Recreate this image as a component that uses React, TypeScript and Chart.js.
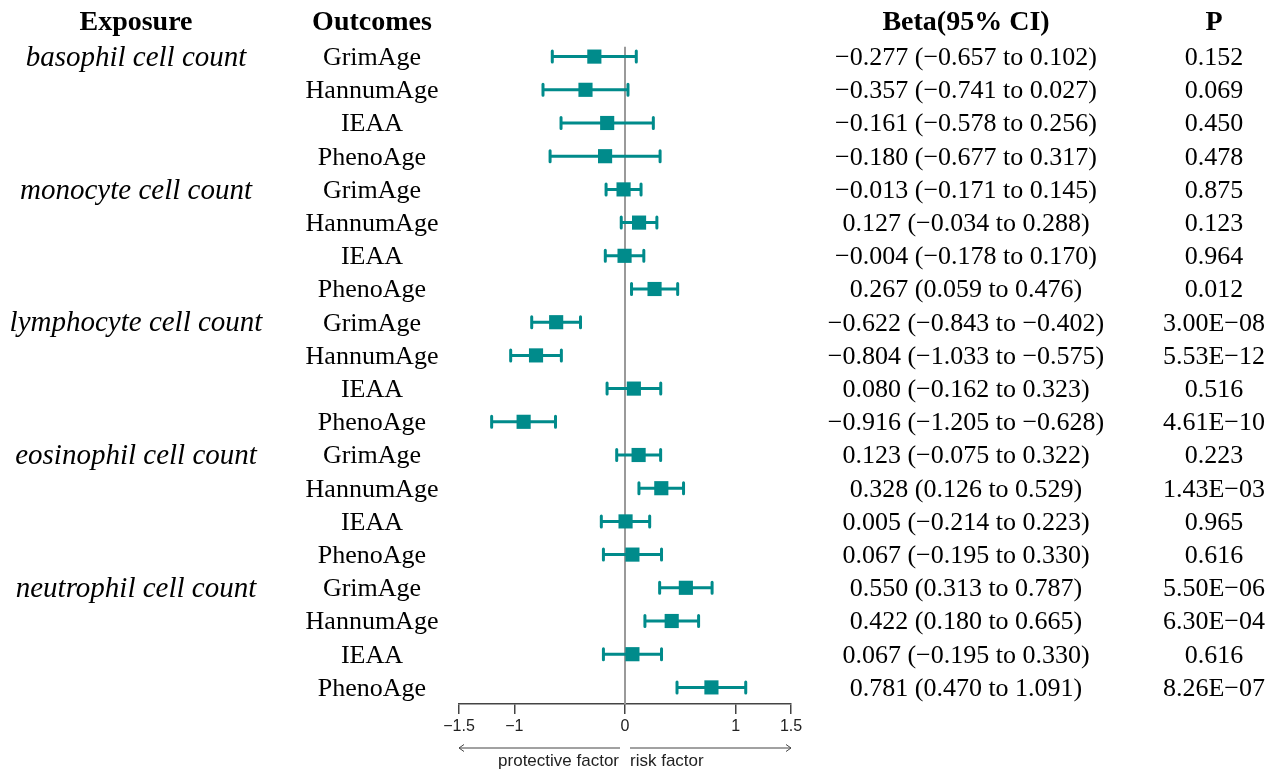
import React, { useEffect, useRef } from "react";
import { Chart, registerables } from "chart.js";

Chart.register(...registerables);

const exposures = [
  "basophil cell count",
  "monocyte cell count",
  "lymphocyte cell count",
  "eosinophil cell count",
  "neutrophil cell count",
];
const outcomes = ["GrimAge", "HannumAge", "IEAA", "PhenoAge"];
const beta = [
  -0.277, -0.357, -0.161, -0.18, -0.013, 0.127, -0.004, 0.267, -0.622, -0.804,
  0.08, -0.916, 0.123, 0.328, 0.005, 0.067, 0.55, 0.422, 0.067, 0.781,
];
const lower = [
  -0.657, -0.741, -0.578, -0.677, -0.171, -0.034, -0.178, 0.059, -0.843, -1.033,
  -0.162, -1.205, -0.075, 0.126, -0.214, -0.195, 0.313, 0.18, -0.195, 0.47,
];
const upper = [
  0.102, 0.027, 0.256, 0.317, 0.145, 0.288, 0.17, 0.476, -0.402, -0.575, 0.323,
  -0.628, 0.322, 0.529, 0.223, 0.33, 0.787, 0.665, 0.33, 1.091,
];
const pValues = [
  "0.152", "0.069", "0.450", "0.478", "0.875", "0.123", "0.964", "0.012",
  "3.00E\u221208", "5.53E\u221212", "0.516", "4.61E\u221210", "0.223",
  "1.43E\u221203", "0.965", "0.616", "5.50E\u221206", "6.30E\u221204", "0.616",
  "8.26E\u221207",
];
const xTicks = [-1.5, -1, 0, 1, 1.5];
const headers = ["Exposure", "Outcomes", "Beta(95% CI)", "P"];
const directionLabels = ["protective factor", "risk factor"];

const TEAL = "#008b8b";
const SERIF = '"Liberation Serif", "Times New Roman", serif';
const SANS = '"Liberation Sans", Arial, sans-serif';

const fmt = (v: number) => (v < 0 ? "\u2212" : "") + Math.abs(v).toFixed(3);
const fmtTick = (v: number) => (v < 0 ? "\u2212" : "") + String(Math.abs(v));

const rows = beta.map((b, i) => ({
  exposure: i % 4 === 0 ? exposures[i / 4] : "",
  outcome: outcomes[i % 4],
  b,
  lo: lower[i],
  hi: upper[i],
  p: pValues[i],
}));

const forestPlugin = {
  id: "forest",
  beforeDatasetsDraw(chart: any) {
    const { ctx, scales } = chart;
    const xs = scales.x;
    const ys = scales.y;
    ctx.save();
    // zero reference line
    ctx.strokeStyle = "#9a9a9a";
    ctx.lineWidth = 2;
    ctx.beginPath();
    const x0 = Math.round(xs.getPixelForValue(0));
    ctx.moveTo(x0, ys.getPixelForValue(-0.3));
    ctx.lineTo(x0, chart.chartArea.bottom);
    ctx.stroke();
    // whiskers
    ctx.strokeStyle = TEAL;
    ctx.lineWidth = 3;
    ctx.lineCap = "round";
    rows.forEach((r, i) => {
      const y = ys.getPixelForValue(i);
      const xl = xs.getPixelForValue(r.lo);
      const xh = xs.getPixelForValue(r.hi);
      ctx.beginPath();
      ctx.moveTo(xl, y);
      ctx.lineTo(xh, y);
      ctx.moveTo(xl, y - 5.5);
      ctx.lineTo(xl, y + 5.5);
      ctx.moveTo(xh, y - 5.5);
      ctx.lineTo(xh, y + 5.5);
      ctx.stroke();
    });
    ctx.restore();
  },
  afterDraw(chart: any) {
    const { ctx, scales } = chart;
    const xs = scales.x;
    const ys = scales.y;
    const colX = [136, 372, 966, 1214];
    ctx.save();
    ctx.fillStyle = "#000";
    ctx.textAlign = "center";
    ctx.textBaseline = "middle";
    const hy = ys.getPixelForValue(-1.01);
    ctx.font = `bold 28px ${SERIF}`;
    headers.forEach((h, i) => ctx.fillText(h, colX[i], hy));
    rows.forEach((r, i) => {
      const y = ys.getPixelForValue(i) + 1.5;
      if (r.exposure) {
        ctx.font = `italic 29px ${SERIF}`;
        ctx.fillText(r.exposure, colX[0], y);
      }
      ctx.font = `26px ${SERIF}`;
      ctx.fillText(r.outcome, colX[1], y);
      ctx.fillText(`${fmt(r.b)} (${fmt(r.lo)} to ${fmt(r.hi)})`, colX[2], y);
      ctx.fillText(r.p, colX[3], y);
    });
    // direction arrows
    const ay = 748;
    const xl = xs.getPixelForValue(-1.5);
    const xr = xs.getPixelForValue(1.5);
    const xz = xs.getPixelForValue(0);
    ctx.strokeStyle = "#444";
    ctx.lineWidth = 1;
    ctx.beginPath();
    ctx.moveTo(xl, ay);
    ctx.lineTo(xz - 5, ay);
    ctx.moveTo(xl + 5, ay - 3.5);
    ctx.lineTo(xl, ay);
    ctx.lineTo(xl + 5, ay + 3.5);
    ctx.moveTo(xz + 5, ay);
    ctx.lineTo(xr, ay);
    ctx.moveTo(xr - 5, ay - 3.5);
    ctx.lineTo(xr, ay);
    ctx.lineTo(xr - 5, ay + 3.5);
    ctx.stroke();
    ctx.font = `17px ${SANS}`;
    ctx.fillStyle = "#222";
    ctx.textAlign = "right";
    ctx.fillText(directionLabels[0], xz - 6, ay + 13);
    ctx.textAlign = "left";
    ctx.fillText(directionLabels[1], xz + 5, ay + 13);
    ctx.restore();
  },
};

export default function App() {
  const ref = useRef<HTMLCanvasElement>(null);
  useEffect(() => {
    if (!ref.current) return;
    const chart = new Chart(ref.current, {
      type: "scatter",
      data: {
        datasets: [
          {
            data: rows.map((r, i) => ({ x: r.b, y: i })),
            pointStyle: "rect",
            pointRadius: 10,
            pointHoverRadius: 10,
            backgroundColor: TEAL,
            borderWidth: 0,
          },
        ],
      },
      options: {
        responsive: false,
        animation: false,
        layout: { padding: { left: 459, right: 484, top: 40, bottom: 0 } },
        plugins: { legend: { display: false }, tooltip: { enabled: false } },
        scales: {
          x: {
            type: "linear",
            min: -1.5,
            max: 1.5,
            afterBuildTicks: (s: any) => {
              s.ticks = xTicks.map((v) => ({ value: v }));
            },
            afterFit: (s: any) => {
              s.height = 66;
            },
            ticks: {
              autoSkip: false,
              maxRotation: 0,
              padding: 3,
              color: "#222",
              font: { family: SANS, size: 16 },
              callback: (v: any) => fmtTick(Number(v)),
            },
            grid: {
              drawOnChartArea: false,
              drawTicks: true,
              tickLength: 10,
              color: "#444",
              lineWidth: 1.5,
            },
            border: { display: true, color: "#444", width: 1.5 },
          },
          y: {
            type: "linear",
            min: -0.5,
            max: 19.5,
            reverse: true,
            display: false,
          },
        },
      },
      plugins: [forestPlugin],
    });
    return () => chart.destroy();
  }, []);
  return (
    <div style={{ position: "absolute", left: 0, top: 0, width: 1275, height: 770, background: "#fff" }}>
      <canvas ref={ref} width={1275} height={770} />
    </div>
  );
}
